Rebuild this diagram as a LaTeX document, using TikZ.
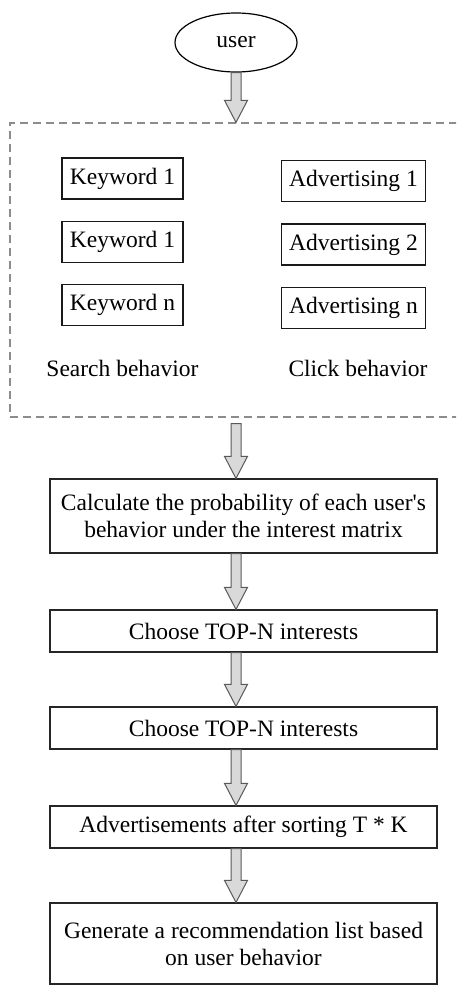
\documentclass[tikz,border=0pt]{standalone}
\usepackage{fontspec}
\setmainfont{Liberation Serif}
\usetikzlibrary{shapes.geometric,calc}

\tikzset{
  txt/.style={font=\fontsize{23.5}{27}\selectfont},
  userbox/.style={txt, ellipse, draw=black, line width=1.2pt, minimum width=122pt, minimum height=59pt, inner sep=0pt},
  itembox/.style={txt, draw=black!90, line width=1.2pt, inner xsep=8pt, inner ysep=0pt, minimum height=41pt},
  stepbox/.style={txt, draw=black!85, line width=1.2pt, minimum width=387pt, inner sep=0pt, align=center},
  groupbox/.style={draw=black!45, dash pattern=on 8pt off 5pt, line width=1.2pt, inner sep=0pt},
  arrowbody/.style={fill=black!15, draw=black!65, line width=1pt, line join=miter},
}

% hollow block arrow, straight down along the axis, from #2 to #3 (#1 = gap at the start)
\newcommand\flowarrow[3][0]{%
  \path (axis |- #2.south) coordinate (fa-s) (axis |- #3.north) coordinate (fa-t);
  \filldraw[arrowbody] ($(fa-s)+(-5,#1)$) -- ($(fa-t)+(-5,-22)$) -- ($(fa-t)+(-11.5,-22)$)
    -- (fa-t) -- ($(fa-t)+(11.5,-22)$) -- ($(fa-t)+(5,-22)$) -- ($(fa-s)+(5,#1)$) -- cycle;
}

\begin{document}
\begin{tikzpicture}[x=1pt,y=-1pt]
  \clip (0,0) rectangle (456,985);
  \coordinate (axis) at (236,0);

  % Usuario
  \node[userbox] (user) at (236,42.5) {user};

  % Comportamiento: busqueda y clics
  \node[groupbox, minimum width=460pt, minimum height=294pt] (group) at (240,270) {};
  \node[itembox] (kw1) at (122.5,178.5) {Keyword 1};
  \node[itembox] (kw2) at (122.5,242) {Keyword 1};
  \node[itembox] (kwn) at (122.5,305) {Keyword n};
  \node[itembox] (ad1) at (353.5,181) {Advertising 1};
  \node[itembox] (ad2) at (353.5,244.5) {Advertising 2};
  \node[itembox] (adn) at (353.5,308) {Advertising n};
  \node[txt] (search) at (122.5,368) {Search behavior};
  \node[txt] (click) at (358,368) {Click behavior};

  % Pasos
  \node[stepbox, minimum height=74pt] (calc1) at (243.5,516)
    {Calculate the probability of each user\textquotesingle s\\behavior under the interest matrix};
  \node[stepbox, minimum height=42pt] (top1) at (243.5,631) {Choose TOP-N interests};
  \node[stepbox, minimum height=42pt] (top2) at (243.5,728) {Choose TOP-N interests};
  \node[stepbox, minimum height=42pt] (sort) at (243.5,827) {Advertisements after sorting T * K};
  \node[stepbox, minimum height=81pt] (rec) at (243.5,943.5)
    {Generate a recommendation list based\\on user behavior};

  % Flechas
  \flowarrow{user}{group}
  \flowarrow[6]{group}{calc1}
  \flowarrow{calc1}{top1}
  \flowarrow{top1}{top2}
  \flowarrow{top2}{sort}
  \flowarrow{sort}{rec}
\end{tikzpicture}
\end{document}
